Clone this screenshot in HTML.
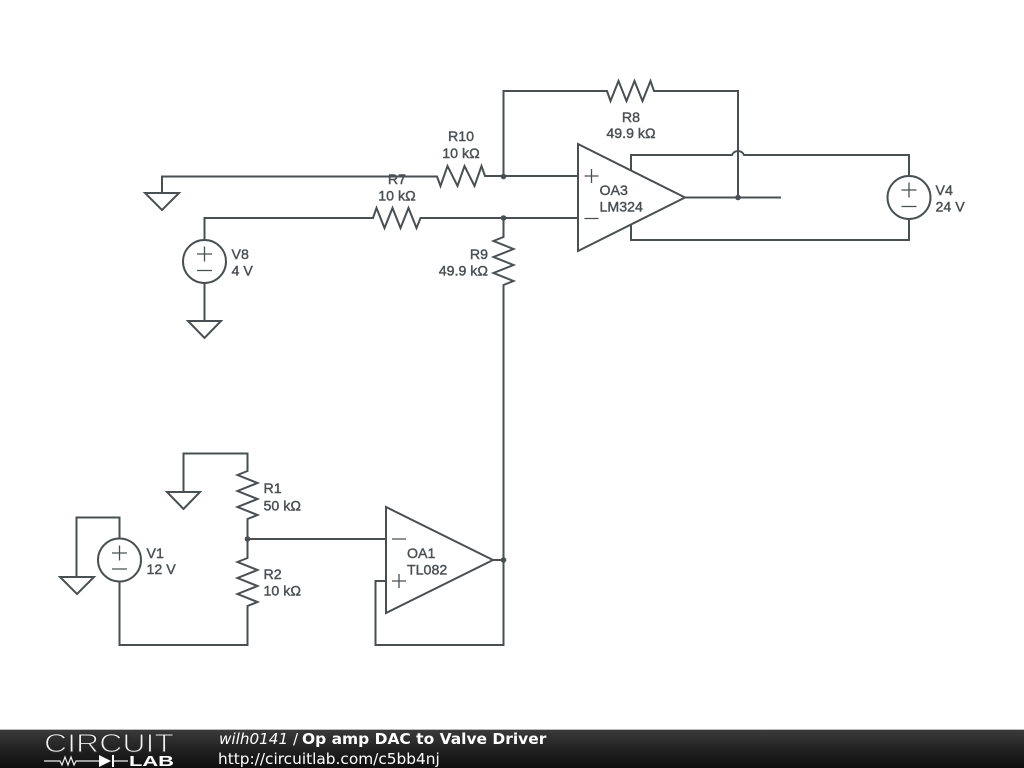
<!DOCTYPE html>
<html><head><meta charset="utf-8"><style>
html,body{margin:0;padding:0;background:#fff;width:1024px;height:768px;overflow:hidden}
svg{position:absolute;left:0;top:0}
.t{font-family:"Liberation Sans",sans-serif;font-size:14.2px;fill:#4a4f52;stroke:#4a4f52;stroke-width:.4px}
.f{font-family:"DejaVu Sans",sans-serif;font-size:15.35px;fill:#fff}
</style></head><body>
<svg width="1024" height="768" viewBox="0 0 1024 768">
<defs><linearGradient id="g" x1="0" y1="0" x2="0" y2="1"><stop offset="0" stop-color="#3a3a3a"/><stop offset=".5" stop-color="#222"/><stop offset="1" stop-color="#0e0e0e"/></linearGradient></defs>
<g fill="none" stroke="#4a4f52" stroke-width="2" stroke-linejoin="miter">
<path d="M162 193V176.500H437l3.500 9.500 7-20 10 20 7-20 10 20 7-20 3.500 10H578"/>
<path d="M204.500 240V218H373l3.500-10 8 20 8-20 8 20 8-20 8 20 4-10H578"/>
<path d="M503.500 176V91H607l3.500 10 8-20 8 20 8-20 8 20 8-20 3.500 10H738V197"/>
<path d="M503.500 218V237l-10 4 20 8-20 8 20 8-20 8 20 8-10 4V645H375.500V581H386"/>
<path d="M145 193h34l-17 17z"/>
<path d="M188 321h33l-16.500 17zM204.500 283V321"/>
<circle cx="204.500" cy="261.500" r="21.500"/>
<path d="M578 144V251L685 197.500z"/>
<path d="M685 197.500H781"/>
<path d="M631 171V155H732a6.500 6.500 0 0 1 12 0H909V176M631 224V240H909V219"/>
<circle cx="909" cy="197.500" r="21.500"/>
<path d="M183.500 492V453.500H247.500V471L237.500 475 257.500 483 237.500 491 257.500 499 237.500 507 257.500 515 247.500 519V558L237.500 562 257.500 570 237.500 578 257.500 586 237.500 594 257.500 602 247.500 606V645H119.500V582"/>
<path d="M167 492h33l-16.500 17zM60 577h34l-17 17zM76.500 577V517.500H119.500V538"/>
<circle cx="119.500" cy="560" r="21.500"/>
<path d="M247.500 539H386M386 507V613L493 560z"/>
<path d="M493 560H503.500"/>
</g>
<g fill="none" stroke="#4a4f52" stroke-width="1.300">
<path d="M197 254h15M204.500 246.500v15M197 270.500h15"/>
<path d="M584.500 176h14M591.500 169v14M584.500 218.500h14"/>
<path d="M901.500 190h15M909 182.500v15M901.500 206.500h15"/>
<path d="M112 553h15M119.500 545.500v15M112 569h15"/>
<path d="M392 539h14M392 581h14M399 574v14"/>
</g>
<g fill="#4a4f52">
<circle cx="503.500" cy="176.500" r="2.800"/><circle cx="503.500" cy="218" r="2.800"/><circle cx="738" cy="197.500" r="2.800"/><circle cx="503.500" cy="560" r="2.800"/><circle cx="247.500" cy="539" r="2.800"/>
</g>
<g class="t">
<text x="461" y="141" text-anchor="middle">R10</text><text x="461" y="158" text-anchor="middle">10 kΩ</text>
<text x="397" y="184" text-anchor="middle">R7</text><text x="397" y="200.500" text-anchor="middle">10 kΩ</text>
<text x="631" y="122" text-anchor="middle">R8</text><text x="631" y="138" text-anchor="middle">49.9 kΩ</text>
<text x="488" y="259" text-anchor="end">R9</text><text x="488" y="275.500" text-anchor="end">49.9 kΩ</text>
<text x="599.500" y="195">OA3</text><text x="599.500" y="211.500">LM324</text>
<text x="407" y="558">OA1</text><text x="407" y="574.500">TL082</text>
<text x="935.500" y="195">V4</text><text x="935.500" y="211.500">24 V</text>
<text x="231.500" y="259">V8</text><text x="231.500" y="275.500">4 V</text>
<text x="146.500" y="558">V1</text><text x="146.500" y="574">12 V</text>
<text x="263.500" y="493">R1</text><text x="263.500" y="510.500">50 kΩ</text>
<text x="263.500" y="579">R2</text><text x="263.500" y="595.500">10 kΩ</text>
</g>
<rect x="0" y="730" width="1024" height="38" fill="url(#g)"/>
<rect x="0" y="729" width="1024" height="1" fill="#bbb"/>
<text x="44" y="752" font-family="Liberation Sans,sans-serif" font-size="26" fill="#f2f2f2" stroke="#2a2a2a" stroke-width="1" textLength="130" lengthAdjust="spacingAndGlyphs">CIRCUIT</text>
<path d="M44 761H60l2 4 3-8 3 8 3-8 3 8 2-4H99M114 761H128" fill="none" stroke="#eee" stroke-width="1.200"/>
<path d="M99 755v12l12-6zM112 755h2v12h-2z" fill="#fff"/>
<text x="129" y="766" font-family="Liberation Sans,sans-serif" font-weight="700" font-size="14.500" fill="#fff" textLength="45" lengthAdjust="spacingAndGlyphs">LAB</text>
<text class="f" x="219" y="744" style="font-size:15.2px"><tspan font-style="italic">wilh0141</tspan> /</text>
<text class="f" x="302" y="744" font-weight="700" style="font-size:15.48px">Op amp DAC to Valve Driver</text>
<text class="f" x="218" y="764">http://circuitlab.com/c5bb4nj</text>
</svg>
</body></html>
